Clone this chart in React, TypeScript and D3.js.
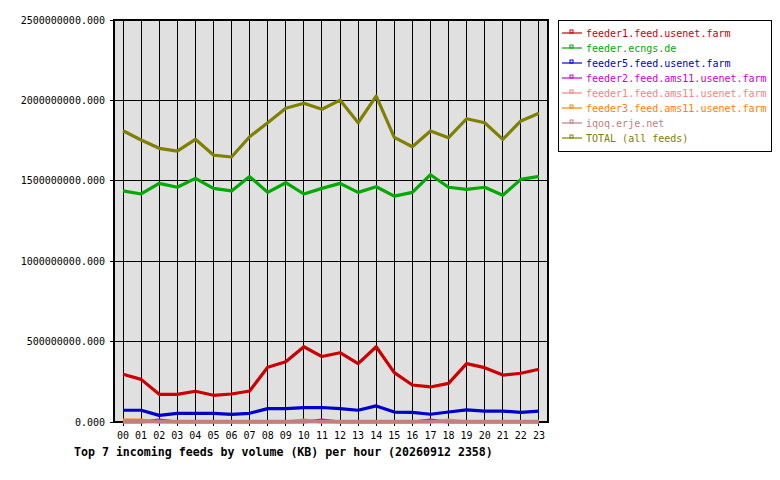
import React from 'react';
import * as d3 from 'd3';

const hours = ['00','01','02','03','04','05','06','07','08','09','10','11','12','13','14','15','16','17','18','19','20','21','22','23'];

// values in millions of KB
const feeder1 = [297,265,172,172,191,166,174,193,340,375,468,407,431,363,468,307,230,218,240,363,338,292,303,328];
const ecngs = [1437,1418,1484,1460,1515,1453,1437,1526,1428,1488,1418,1453,1484,1428,1463,1405,1428,1538,1460,1447,1460,1410,1509,1528];
const feeder5 = [73,73,41,54,54,54,48,54,83,83,89,90,83,73,100,62,60,48,62,75,68,68,60,68];
const feeder2ams = [0,0,12,0,0,0,0,0,0,0,0,12,0,0,0,0,0,12,0,0,0,0,0,0];
const feeder1ams = [0,0,0,0,0,0,0,0,0,0,0,0,0,0,0,0,0,0,12,0,0,0,0,0];
const feeder3ams = [12,12,0,0,0,0,0,0,0,0,12,0,0,0,0,0,0,0,0,0,0,0,0,0];
const iqoq = [4,4,4,4,4,4,4,4,4,4,4,4,4,4,4,4,4,4,4,4,4,4,4,4];
const total = [1811,1754,1702,1685,1758,1660,1648,1774,1861,1951,1982,1945,2002,1861,2027,1770,1712,1810,1768,1886,1861,1758,1872,1920];

const yTicks = [0, 500000000, 1000000000, 1500000000, 2000000000, 2500000000];

const series = [
  { name: 'feeder1.feed.usenet.farm', color: '#cc0000', values: feeder1 },
  { name: 'feeder.ecngs.de', color: '#00aa00', values: ecngs },
  { name: 'feeder5.feed.usenet.farm', color: '#0000cc', values: feeder5 },
  { name: 'feeder2.feed.ams11.usenet.farm', color: '#cc00cc', values: feeder2ams },
  { name: 'feeder1.feed.ams11.usenet.farm', color: '#ff8080', values: feeder1ams },
  { name: 'feeder3.feed.ams11.usenet.farm', color: '#ff8000', values: feeder3ams },
  { name: 'iqoq.erje.net', color: '#c08080', values: iqoq },
  { name: 'TOTAL (all feeds)', color: '#808000', values: total },
];

const font = '"DejaVu Sans Mono", monospace';

export default function App() {
  const left = 114, right = 548, top = 20, bottom = 422;

  const x = d3.scaleLinear().domain([-0.5, hours.length - 0.5]).range([left, right]);
  const y = d3.scaleLinear().domain([0, 2500000000]).range([bottom, top]);

  const line = d3
    .line<number>()
    .x((_, i) => x(i))
    .y((d) => y(d * 1e6));

  return (
    <svg
      width={780}
      height={480}
      style={{ position: 'absolute', left: 0, top: 0, background: '#fff' }}
      fontFamily={font}
    >
      {/* plot background */}
      <rect x={left} y={top} width={right - left} height={bottom - top} fill="#e0e0e0" />

      {/* vertical grid + x ticks */}
      {hours.map((h, i) => (
        <line key={'vx' + h} x1={x(i)} x2={x(i)} y1={top} y2={bottom + 4}
          stroke="#000" strokeWidth={1} shapeRendering="crispEdges" />
      ))}

      {/* horizontal grid + y ticks */}
      {yTicks.map((t) => (
        <g key={'hy' + t}>
          <line x1={left - 4} x2={right} y1={y(t)} y2={y(t)} stroke="#000" strokeWidth={1} shapeRendering="crispEdges" />
          <text x={105} y={y(t)} textAnchor="end" dominantBaseline="central" fontSize={10} fill="#000">
            {t.toFixed(3)}
          </text>
        </g>
      ))}

      <rect x={left} y={top} width={right - left} height={bottom - top} fill="none"
        stroke="#000" strokeWidth={1.5} shapeRendering="crispEdges" />

      {/* series lines */}
      {series.map((s) => (
        <path key={s.name} d={line(s.values) || ''} fill="none" stroke={s.color}
          strokeWidth={3.2} strokeLinejoin="round" />
      ))}

      {/* x labels */}
      {hours.map((h, i) => (
        <text key={'xl' + h} x={x(i)} y={435} textAnchor="middle" dominantBaseline="central" fontSize={10} fill="#000">
          {h}
        </text>
      ))}

      <text x={74} y={452} dominantBaseline="central" fontSize={11.6} fontWeight="bold" fill="#000">
        Top 7 incoming feeds by volume (KB) per hour (20260912 2358)
      </text>

      {/* legend */}
      <rect x={558} y={20} width={213} height={131} fill="#fff" stroke="#000" strokeWidth={1} shapeRendering="crispEdges" />
      {series.map((s, i) => {
        const ly = 33 + i * 15;
        return (
          <g key={'lg' + s.name}>
            <line x1={562} x2={582} y1={ly} y2={ly} stroke={s.color} strokeWidth={1.2} />
            <rect x={570} y={ly - 3} width={3} height={3} fill="none" stroke={s.color} strokeWidth={1} />
            <text x={586} y={ly + 0.5} dominantBaseline="central" fontSize={10} fill={s.color}>
              {s.name}
            </text>
          </g>
        );
      })}
    </svg>
  );
}
